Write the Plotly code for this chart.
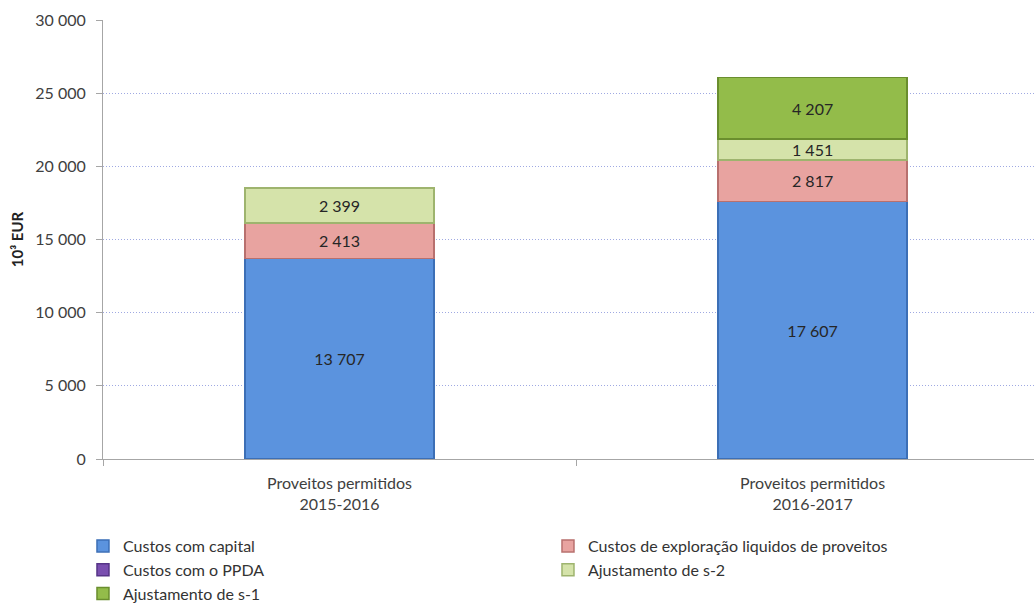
import plotly.graph_objects as go

categories = ["Proveitos permitidos<br>2015-2016", "Proveitos permitidos<br>2016-2017"]

custos_capital = [13707, 17607]
custos_exploracao = [2413, 2817]
custos_ppda = [None, None]
ajustamento_s2 = [2399, 1451]
ajustamento_s1 = [None, 4207]

series = [
    ("Custos com capital", custos_capital, "#5B93DE", "#3C6FB6"),
    ("Custos de exploração liquidos de proveitos", custos_exploracao, "#E8A3A0", "#B8706E"),
    ("Custos com o PPDA", custos_ppda, "#7A4FB0", "#563587"),
    ("Ajustamento de s-2", ajustamento_s2, "#D5E3AA", "#9EB46E"),
    ("Ajustamento de s-1", ajustamento_s1, "#93BC4A", "#6A8E2E"),
]

FONT = "Lato, 'Open Sans', sans-serif"

fig = go.Figure()
for name, values, color, edge in series:
    fig.add_trace(go.Bar(
        name=name,
        x=categories,
        y=values,
        width=0.4,
        marker=dict(color=color, line=dict(color=edge, width=1.5)),
        texttemplate="%{y:,}",
        textposition="inside",
        insidetextanchor="middle",
        textfont=dict(family=FONT, size=16, color="#262626"),
        constraintext="none",
    ))

fig.update_layout(
    barmode="stack",
    width=1034,
    height=611,
    separators=", ",
    paper_bgcolor="white",
    plot_bgcolor="white",
    font=dict(family=FONT, size=15, color="#333333"),
    margin=dict(l=103, r=0, t=20, b=152),
    legend=dict(
        orientation="h",
        x=-0.0215,
        y=-0.16,
        xanchor="left",
        yanchor="top",
        entrywidth=420,
        entrywidthmode="pixels",
        traceorder="normal",
        font=dict(family=FONT, size=16, color="#333333"),
        itemclick=False,
        tracegroupgap=0,
    ),
)

fig.update_yaxes(
    range=[0, 30000],
    dtick=5000,
    tickformat=",",
    showgrid=True,
    gridcolor="#9FA9E2",
    griddash="1px,2px",
    gridwidth=1,
    showline=True,
    linecolor="#A6A6A6",
    linewidth=1,
    ticks="outside",
    ticklen=6,
    tickcolor="#A6A6A6",
    ticklabelstandoff=7,
    tickfont=dict(family=FONT, size=16, color="#404040"),
    zeroline=False,
    title=dict(text="<b>10³ EUR</b>", font=dict(family=FONT, size=15, color="#222222"), standoff=8),
)

fig.update_xaxes(
    range=[-0.5, 1.468],
    showline=True,
    linecolor="#A6A6A6",
    linewidth=1,
    ticks="outside",
    tickson="boundaries",
    ticklen=6,
    tickcolor="#A6A6A6",
    ticklabelstandoff=10,
    tickfont=dict(family=FONT, size=16, color="#404040"),
    showgrid=False,
)

fig.write_html("out.html")
